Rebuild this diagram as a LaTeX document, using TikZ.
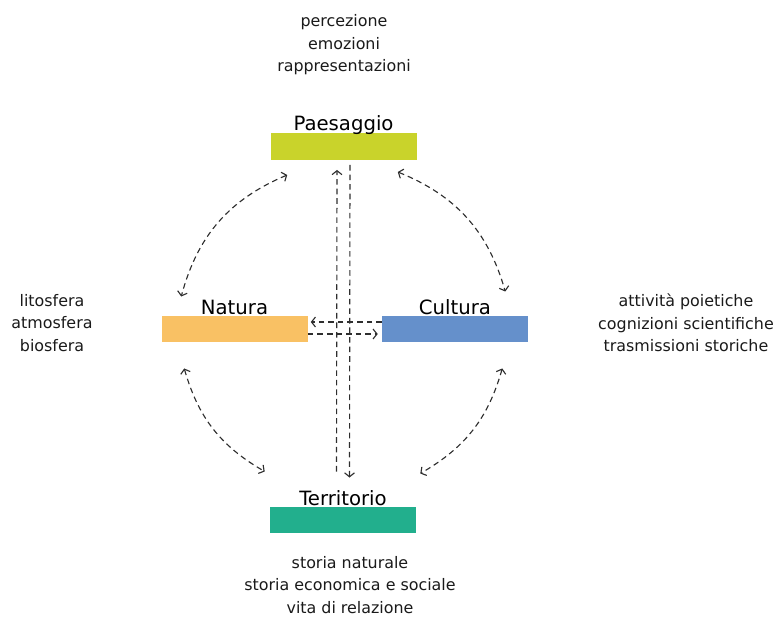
\documentclass[tikz,border=0pt]{standalone}
\usepackage{fontspec}
\setmainfont{DejaVu Sans}
\usepackage{xcolor}
\usetikzlibrary{arrows.meta,positioning}
\definecolor{PLGreen}{HTML}{C9D32B}
\definecolor{PLOrange}{HTML}{F9C164}
\definecolor{PLBlue}{HTML}{6590CB}
\definecolor{PLTeal}{HTML}{22AF8D}
\definecolor{PLText}{HTML}{1A1A1A}
\definecolor{PLArrow}{HTML}{2E2E2E}

\begin{document}
\begin{tikzpicture}[x=1cm,y=1cm,
  >={Straight Barb[length=2.8pt,width=7pt]},
  bar/.style={rectangle,minimum width=3.65cm,minimum height=0.66cm,inner sep=0pt},
  barlabel/.style={anchor=base,font=\fontsize{14}{16}\selectfont,text=black},
  note/.style={align=center,font=\fontsize{11.3}{16}\selectfont,text=PLText},
  link/.style={PLArrow,line width=.8pt,dash pattern=on 4pt off 2.8pt}]
\path[use as bounding box] (0,0) rectangle (19.475,15.425);
% bars
\node[bar,fill=PLGreen] (pae) at (8.5875,11.7625) {};
\node[bar,fill=PLOrange] (nat) at (5.8625,7.2) {};
\node[bar,fill=PLBlue] (cul) at (11.375,7.2) {};
\node[bar,fill=PLTeal] (ter) at (8.575,2.425) {};
\node[barlabel] (paelab) at ([yshift=1.5pt]pae.north) {Paesaggio};
\node[barlabel] (natlab) at ([yshift=0.5pt]nat.north) {Natura};
\node[barlabel] (cullab) at ([yshift=0.5pt]cul.north) {Cultura};
\node[barlabel] (terlab) at ([yshift=1pt]ter.north) {Territorio};
% notes
\node[note] (paenote) at (8.6,14.3) {percezione\\emozioni\\rappresentazioni};
\node[note] (natnote) at (1.3,7.35) {litosfera\\atmosfera\\biosfera};
\node[note] (culnote) at (17.15,7.35) {attività poietiche\\cognizioni scientifiche\\trasmissioni storiche};
\node[note] (ternote) at (8.75,0.8) {storia naturale\\storia economica e sociale\\vita di relazione};
% curved links
\draw[link,<->] ([shift={(0.425,-0.375)}]pae.south west) to[bend right=26] ([shift={(0.5,0.475)}]nat.north west);
\draw[link,<->] ([shift={(-0.475,-0.3)}]pae.south east) to[bend left=26] ([shift={(-0.575,0.6)}]cul.north east);
\draw[link,<->] ([shift={(0.575,-0.65)}]nat.south west) to[bend right=22] ([shift={(-0.125,0.875)}]ter.north west);
\draw[link,<->] ([shift={(-0.65,-0.65)}]cul.south east) to[bend left=22] ([shift={(0.1,0.825)}]ter.north east);
% straight links
\draw[link,->] ([shift={(-0.1625,0.875)}]ter.north) -- ([shift={(-0.1625,-0.25)}]pae.south);
\draw[link,->] ([shift={(0.1625,-0.125)}]pae.south) -- ([shift={(0.1625,0.725)}]ter.north);
\draw[link,->] ([yshift=0.175cm]cul.west) -- ([shift={(0.075,0.175)}]nat.east);
\draw[link,->] ([yshift=-0.125cm]nat.east) -- ([shift={(-0.1,-0.125)}]cul.west);
\end{tikzpicture}
\end{document}
